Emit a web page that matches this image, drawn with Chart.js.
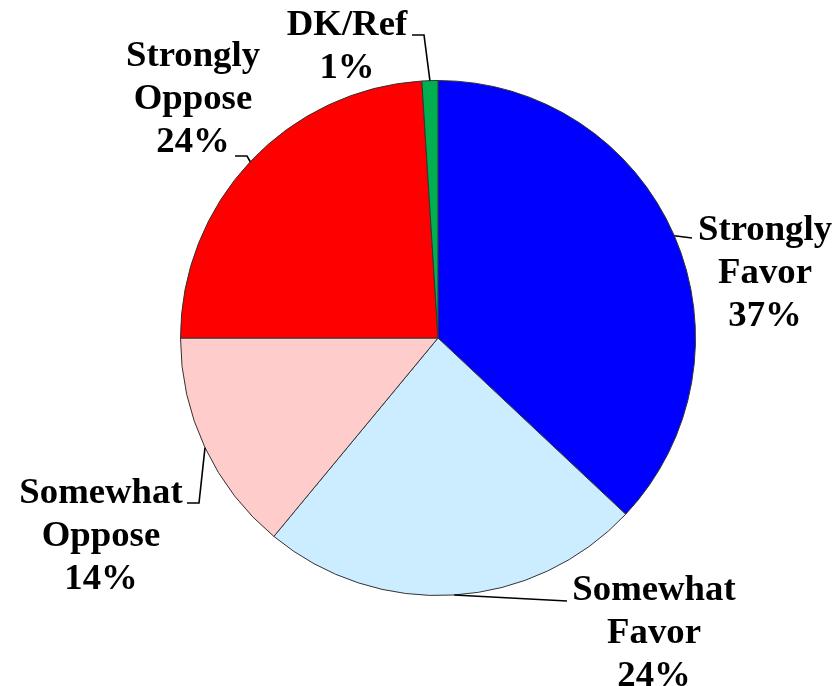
<!DOCTYPE html>
<html>
<head>
<meta charset="utf-8">
<script src="https://cdn.jsdelivr.net/npm/chart.js@4/dist/chart.umd.min.js"></script>
<style>
  html, body { margin: 0; padding: 0; background: #ffffff; }
  #wrap { width: 835px; height: 686px; }
</style>
</head>
<body>
<div id="wrap"><canvas id="c" width="835" height="686"></canvas></div>
<script>
// ---- Data ----
const categories = ["Strongly Favor", "Somewhat Favor", "Somewhat Oppose", "Strongly Oppose", "DK/Ref"];
const labelLines = [["Strongly", "Favor"], ["Somewhat", "Favor"], ["Somewhat", "Oppose"], ["Strongly", "Oppose"], ["DK/Ref"]];
const values = [37, 24, 14, 24, 1];
const colors = ["#0000FF", "#CCECFF", "#FFCCCC", "#FF0000", "#00B050"];

// ---- Label layout (pixel offsets from pie center) ----
// leader: points after the slice edge; text: center x / first baseline
const labelLayout = [
  { leader: [[254, -100]], text: [327, -98] },
  { leader: [[129, 263]], text: [216, 262] },
  { leader: [[-239, 165], [-251, 165]], text: [-337, 165] },
  { leader: [[-191, -182], [-203, -182]], text: [-245, -272] },
  { leader: [[-14, -303], [-26, -303]], text: [-91, -303] }
];
const LINE_H = 43;
const FONT = "bold 35px 'Liberation Serif', 'Times New Roman', serif";
const X_SCALE = 1.05;

const labelPlugin = {
  id: 'pieLabels',
  afterDatasetsDraw(chart) {
    const ctx = chart.ctx;
    const meta = chart.getDatasetMeta(0);
    meta.data.forEach((arc, i) => {
      const p = arc.getProps(['x', 'y', 'startAngle', 'endAngle', 'outerRadius'], true);
      const mid = (p.startAngle + p.endAngle) / 2;
      const ex = p.x + p.outerRadius * Math.cos(mid);
      const ey = p.y + p.outerRadius * Math.sin(mid);
      const lay = labelLayout[i];
      ctx.save();
      ctx.strokeStyle = '#000000';
      ctx.lineWidth = 1.6;
      ctx.beginPath();
      ctx.moveTo(ex, ey);
      lay.leader.forEach(pt => ctx.lineTo(p.x + pt[0], p.y + pt[1]));
      ctx.stroke();
      ctx.fillStyle = '#000000';
      ctx.font = FONT;
      ctx.textAlign = 'center';
      ctx.textBaseline = 'alphabetic';
      const lines = labelLines[i].concat([values[i] + '%']);
      lines.forEach((ln, k) => {
        ctx.save();
        ctx.translate(p.x + lay.text[0], p.y + lay.text[1] + k * LINE_H);
        ctx.scale(X_SCALE, 1);
        ctx.fillText(ln, 0, 0);
        ctx.restore();
      });
      ctx.restore();
    });
  }
};

new Chart(document.getElementById('c'), {
  type: 'pie',
  data: {
    labels: categories,
    datasets: [{
      data: values,
      backgroundColor: colors,
      borderColor: '#333333',
      borderWidth: 1
    }]
  },
  options: {
    responsive: false,
    animation: false,
    layout: { padding: { left: 180, right: 139, top: 80, bottom: 90 } },
    plugins: {
      legend: { display: false },
      tooltip: { enabled: false }
    }
  },
  plugins: [labelPlugin]
});
</script>
</body>
</html>
